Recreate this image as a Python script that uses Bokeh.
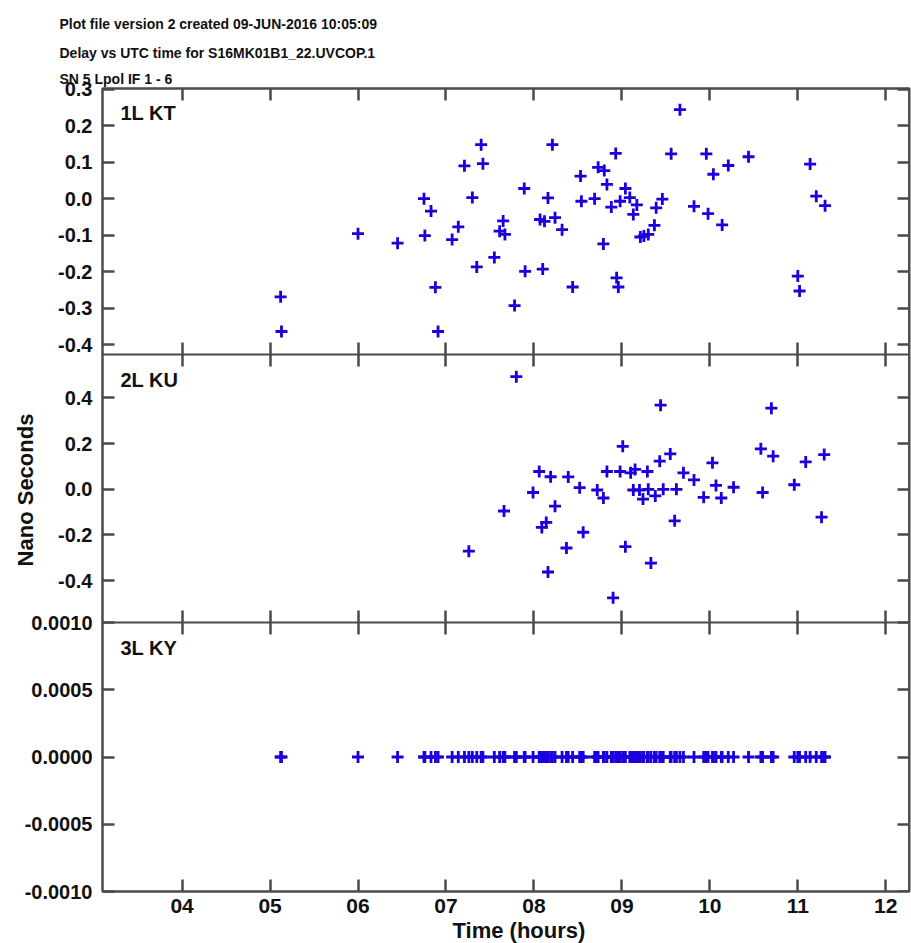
from bokeh.plotting import figure
from bokeh.models import Range1d, LinearAxis, FixedTicker, PrintfTickFormatter, Label, Title
from bokeh.embed import file_html
from bokeh.resources import INLINE

# ---------------- data ----------------
title_lines = ["Plot file version 2  created 09-JUN-2016 10:05:09",
               "Delay vs UTC time for S16MK01B1_22.UVCOP.1",
               "SN 5  Lpol  IF 1 - 6"]
panel_names = ["1L KT", "2L KU", "3L KY"]
x_label = "Time (hours)"
y_label = "Nano Seconds"

kt_time = [5.12, 5.13, 6.00, 6.45, 6.75, 6.76, 6.83, 6.88, 6.91, 7.07, 7.14, 7.21, 7.30, 7.35,
           7.40, 7.42, 7.55, 7.61, 7.65, 7.67, 7.78, 7.89, 7.90, 8.07, 8.10, 8.12, 8.16, 8.21,
           8.24, 8.32, 8.44, 8.53, 8.54, 8.69, 8.73, 8.79, 8.80, 8.83, 8.88, 8.93, 8.94, 8.96,
           8.98, 9.04, 9.09, 9.13, 9.17, 9.21, 9.25, 9.30, 9.37, 9.39, 9.46, 9.56, 9.66, 9.82,
           9.96, 9.98, 10.04, 10.14, 10.21, 10.44, 11.00, 11.02, 11.14, 11.21, 11.31]
kt_delay = [-0.269, -0.364, -0.096, -0.122, 0.000, -0.101, -0.034, -0.243, -0.364, -0.112, -0.077,
            0.090, 0.003, -0.187, 0.148, 0.096, -0.161, -0.089, -0.061, -0.098, -0.293, 0.028,
            -0.199, -0.057, -0.193, -0.062, 0.002, 0.148, -0.052, -0.085, -0.242, 0.062, -0.007,
            0.000, 0.086, -0.124, 0.077, 0.039, -0.023, 0.124, -0.217, -0.242, -0.007, 0.028,
            0.003, -0.043, -0.017, -0.105, -0.102, -0.098, -0.073, -0.025, -0.001, 0.123, 0.244,
            -0.021, 0.123, -0.041, 0.067, -0.072, 0.091, 0.115, -0.212, -0.253, 0.095, 0.007, -0.019]

ku_time = [7.26, 7.66, 7.80, 7.99, 8.06, 8.09, 8.14, 8.16, 8.19, 8.24, 8.37, 8.39, 8.52, 8.56,
           8.72, 8.79, 8.83, 8.90, 8.98, 9.01, 9.04, 9.10, 9.13, 9.15, 9.20, 9.24, 9.29, 9.30,
           9.33, 9.38, 9.43, 9.44, 9.47, 9.55, 9.60, 9.62, 9.70, 9.82, 9.93, 10.03, 10.07, 10.13,
           10.27, 10.58, 10.60, 10.70, 10.72, 10.96, 11.09, 11.27, 11.30]
ku_delay = [-0.271, -0.095, 0.493, -0.014, 0.078, -0.167, -0.145, -0.362, 0.055, -0.074, -0.257,
            0.054, 0.007, -0.188, -0.003, -0.038, 0.078, -0.475, 0.078, 0.188, -0.251, 0.072,
            -0.003, 0.087, -0.003, -0.043, 0.078, 0.000, -0.323, -0.029, 0.123, 0.368, 0.000,
            0.155, -0.138, 0.000, 0.072, 0.041, -0.035, 0.116, 0.017, -0.038, 0.009, 0.177,
            -0.014, 0.355, 0.145, 0.020, 0.120, -0.122, 0.152]

ky_time = [5.12, 5.13, 6.00, 6.45, 6.75, 6.76, 6.83, 6.88, 6.91, 7.07, 7.14, 7.21, 7.26, 7.30,
           7.35, 7.40, 7.42, 7.55, 7.61, 7.65, 7.66, 7.67, 7.78, 7.80, 7.89, 7.90, 7.99, 8.06,
           8.07, 8.09, 8.10, 8.12, 8.14, 8.16, 8.19, 8.21, 8.24, 8.32, 8.37, 8.39, 8.44, 8.52,
           8.53, 8.54, 8.56, 8.69, 8.72, 8.73, 8.79, 8.80, 8.83, 8.88, 8.90, 8.93, 8.94, 8.96,
           8.98, 9.01, 9.04, 9.09, 9.10, 9.13, 9.15, 9.17, 9.20, 9.21, 9.24, 9.25, 9.29, 9.30,
           9.33, 9.37, 9.38, 9.39, 9.43, 9.44, 9.46, 9.47, 9.55, 9.56, 9.60, 9.62, 9.66, 9.70,
           9.82, 9.93, 9.96, 9.98, 10.03, 10.04, 10.07, 10.13, 10.14, 10.21, 10.27, 10.44, 10.58,
           10.60, 10.70, 10.72, 10.96, 11.00, 11.02, 11.09, 11.14, 11.21, 11.27, 11.30, 11.31]
ky_delay = [0.0] * len(ky_time)

x_ticks = [4, 5, 6, 7, 8, 9, 10, 11, 12]
kt_ticks = [-0.4, -0.3, -0.2, -0.1, 0.0, 0.1, 0.2, 0.3]
ku_ticks = [-0.4, -0.2, 0.0, 0.2, 0.4]
ky_ticks = [-0.0010, -0.0005, 0.0, 0.0005, 0.0010]

# ---------------- layout / style ----------------
W, H = 911, 943
FL, FR, FT, FB = 102, 909, 88, 891
BOUNDS = [(88, 354), (354, 622), (622, 891)]
X_LIM = (3.095, 12.27)
LIMS = [(-0.427, 0.302), (-0.583, 0.590), (-0.0010, 0.0010)]

BLUE = "#1a00dc"
AXC = "#4a4a4a"
TXT = "#111111"
FONT = "Liberation Sans"


def panel_range(lo, hi, top, bot):
    s = (hi - lo) / (bot - top)
    return Range1d(start=lo - (FB - bot) * s, end=hi + (top - FT) * s)


kt_rng = panel_range(*LIMS[0], *BOUNDS[0])
ku_rng = panel_range(*LIMS[1], *BOUNDS[1])
ky_rng = panel_range(*LIMS[2], *BOUNDS[2])

p = figure(width=W, height=H, output_backend="svg", toolbar_location=None,
           x_range=Range1d(*X_LIM), y_range=ky_rng,
           x_axis_location=None, y_axis_location=None,
           min_border_left=FL, min_border_right=W - FR,
           min_border_top=FT, min_border_bottom=H - FB)
p.extra_y_ranges = {"kt": kt_rng, "ku": ku_rng}
p.grid.visible = False
p.outline_line_color = AXC
p.outline_line_width = 2
p.background_fill_color = "white"
p.border_fill_color = "white"


def style(ax, labels=True, tin=12, tout=0, size="20px"):
    ax.axis_line_color = AXC
    ax.axis_line_width = 2
    ax.major_tick_line_color = AXC
    ax.major_tick_line_width = 2.5
    ax.major_tick_in = tin
    ax.major_tick_out = tout
    ax.minor_tick_line_color = None
    if labels:
        ax.major_label_text_font = FONT
        ax.major_label_text_font_style = "bold"
        ax.major_label_text_font_size = size
        ax.major_label_text_color = TXT
        ax.major_label_standoff = 8
    else:
        ax.major_label_text_font_size = "0px"
        ax.major_label_text_color = None
        ax.major_label_standoff = 0


def to_default(v, rng):
    # position of a panel value expressed in the shared (default) y range
    return ky_rng.start + (v - rng.start) / (rng.end - rng.start) * (ky_rng.end - ky_rng.start)


# one left axis carrying the tick labels of all three panels
left_ticks, left_labels = [], {}
for ticks, rng, fmt in [(kt_ticks, kt_rng, "%.1f"), (ku_ticks, ku_rng, "%.1f"),
                        (ky_ticks, ky_rng, "%.4f")]:
    for v in ticks:
        pos = to_default(v, rng)
        left_ticks.append(pos)
        left_labels[pos] = fmt % v
left_ax = LinearAxis(ticker=FixedTicker(ticks=left_ticks), major_label_overrides=left_labels,
                     axis_label=y_label)
style(left_ax)
left_ax.major_label_standoff = 10
left_ax.axis_label_text_font = FONT
left_ax.axis_label_text_font_style = "bold"
left_ax.axis_label_text_font_size = "22px"
left_ax.axis_label_text_color = TXT
left_ax.axis_label_standoff = -16
p.add_layout(left_ax, "left")

# mirrored ticks on the right side of each panel
for name, ticks in [("kt", kt_ticks), ("ku", ku_ticks), ("default", ky_ticks)]:
    ra = LinearAxis(y_range_name=name, ticker=FixedTicker(ticks=ticks), fixed_location=X_LIM[1])
    style(ra, labels=False)
    p.add_layout(ra, "right")

# x axes: top, panel boundaries, bottom
top_ax = LinearAxis(ticker=FixedTicker(ticks=x_ticks))
style(top_ax, labels=False)
p.add_layout(top_ax, "above")

for name, lim in [("kt", LIMS[0]), ("ku", LIMS[1])]:
    bx = LinearAxis(y_range_name=name, ticker=FixedTicker(ticks=x_ticks), fixed_location=lim[0])
    style(bx, labels=False, tin=12, tout=12)
    p.add_layout(bx, "below")

bot_ax = LinearAxis(ticker=FixedTicker(ticks=x_ticks), formatter=PrintfTickFormatter(format="%02d"))
style(bot_ax, size="21px")
bot_ax.major_label_standoff = 7
p.add_layout(bot_ax, "below")

p.add_layout(Title(text=x_label, align="left", offset=452 - FL, standoff=0,
                   text_font=FONT, text_font_style="bold", text_font_size="22px",
                   text_color=TXT), "below")

# titles (added closest-first)
for line, so in zip(reversed(title_lines), [3, 13, 9]):
    p.add_layout(Title(text=line, align="left", offset=59 - FL, standoff=so,
                       text_font=FONT, text_font_style="bold", text_font_size="14px",
                       text_color=TXT), "above")

# data
mk = dict(marker="cross", size=12, line_width=2.8, color=BLUE)
p.scatter(kt_time, kt_delay, y_range_name="kt", **mk)
p.scatter(ku_time, ku_delay, y_range_name="ku", **mk)
p.scatter(ky_time, ky_delay, **mk)

# panel names
for name, cy in zip(panel_names, [112, 379, 647]):
    p.add_layout(Label(x=120 - FL, y=FB - cy, x_units="screen", y_units="screen", text=name,
                       text_font=FONT, text_font_size="20px", text_font_style="bold",
                       text_color=TXT, text_align="left", text_baseline="middle"))

open("out.html", "w").write(file_html(p, INLINE))
